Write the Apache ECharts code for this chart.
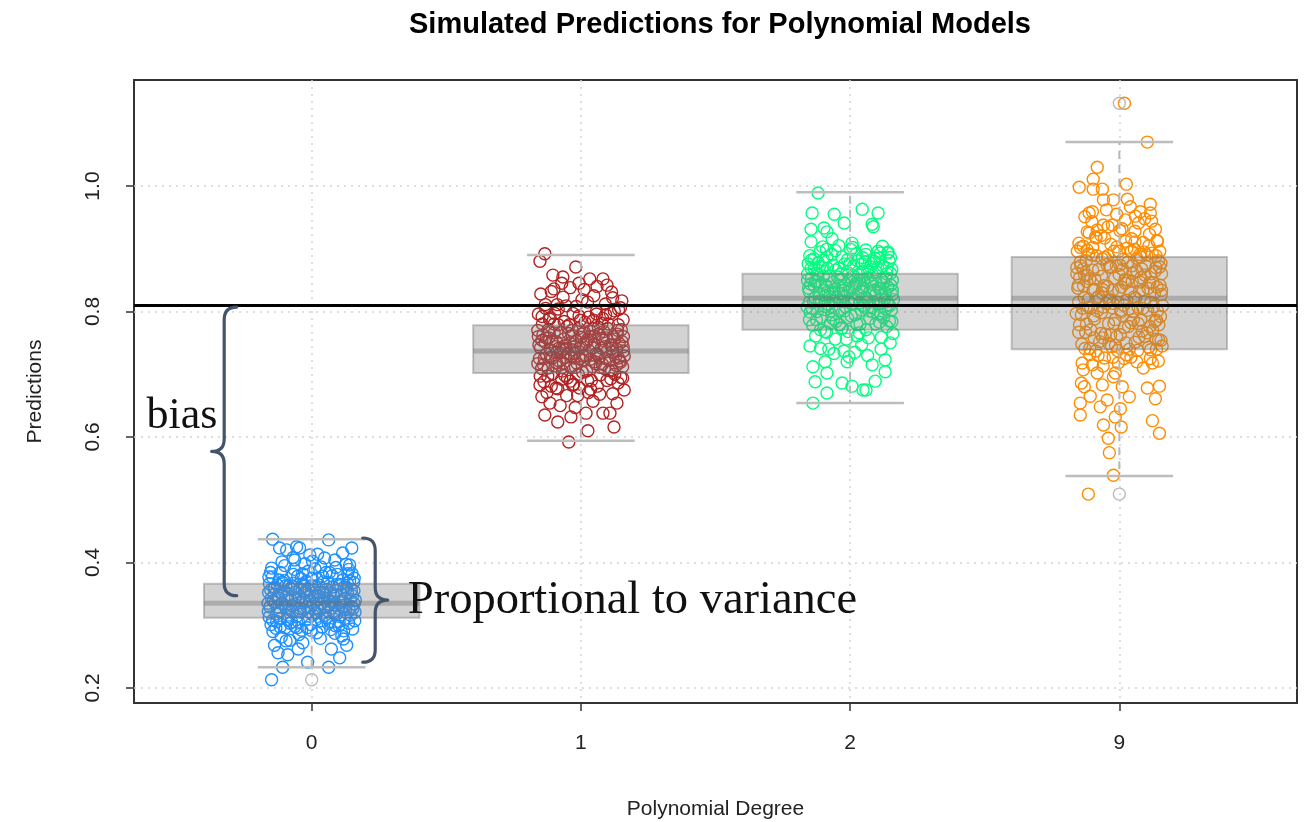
<!DOCTYPE html>
<html>
<head>
<meta charset="utf-8">
<title>Simulated Predictions for Polynomial Models</title>
<script src="https://cdn.jsdelivr.net/npm/echarts@6/dist/echarts.min.js"></script>
<style>
  html, body { margin: 0; padding: 0; background: #ffffff; }
  #chart { width: 1304px; height: 822px; }
</style>
</head>
<body>
<div id="chart"></div>
<script>
// Polynomial degrees shown on the x axis and their slot positions
const degreeLabels = ['0', '1', '2', '9'];
const degreeSlots = [1, 2, 3, 4];
const yTicks = [0.2, 0.4, 0.6, 0.8, 1.0];
const groupColors = ['#1E90FF', '#B22222', '#00FF7F', '#FF8C00'];

// True value of the target
const trueValue = 0.81;

// Simulated predictions per degree: [horizontal jitter, prediction]
const deg0Points = [
  [-0.149,0.213],[-0.145,0.437],[0.063,0.436],[0.149,0.423],[-0.108,0.233],[-0.015,0.241],[0.063,0.233],[0.104,0.248],[-0.089,0.253],[-0.138,0.268],[0.130,0.268],
  [-0.119,0.423],[-0.093,0.420],[-0.056,0.425],[-0.045,0.423],[-0.007,0.412],[0.048,0.407],[0.115,0.415],[0.086,0.404],[-0.063,0.404],[0.141,0.396],[-0.149,0.391],
  [-0.160,0.352],[-0.131,0.318],[-0.102,0.371],[-0.074,0.305],[-0.046,0.344],[-0.018,0.329],[0.011,0.362],[0.039,0.297],[0.067,0.338],[0.096,0.381],[0.124,0.311],[0.152,0.347],
  [-0.155,0.329],[-0.127,0.364],[-0.098,0.296],[-0.070,0.357],[-0.041,0.321],[-0.013,0.386],[0.016,0.309],[0.044,0.352],[0.072,0.327],[0.101,0.299],[0.129,0.359],[0.158,0.334],
  [-0.151,0.301],[-0.122,0.343],[-0.094,0.327],[-0.065,0.389],[-0.037,0.292],[-0.008,0.339],[0.020,0.374],[0.049,0.316],[0.077,0.361],[0.106,0.336],[0.134,0.382],[0.160,0.307],
  [-0.146,0.377],[-0.118,0.310],[-0.089,0.349],[-0.061,0.333],[-0.032,0.366],[-0.004,0.301],[0.025,0.347],[0.053,0.384],[0.082,0.319],[0.110,0.350],[0.139,0.326],[0.156,0.368],
  [-0.142,0.338],[-0.113,0.281],[-0.085,0.362],[-0.056,0.314],[-0.028,0.351],[0.001,0.375],[0.029,0.323],[0.058,0.342],[0.086,0.287],[0.115,0.372],[0.143,0.341],[-0.158,0.313],
  [-0.137,0.360],[-0.109,0.335],[-0.080,0.303],[-0.052,0.378],[-0.023,0.337],[0.005,0.316],[0.034,0.393],[0.062,0.331],[0.091,0.355],[0.119,0.291],[0.148,0.330],[-0.153,0.384],
  [-0.133,0.295],[-0.104,0.354],[-0.076,0.340],[-0.047,0.285],[-0.019,0.370],[0.010,0.346],[0.038,0.335],[0.067,0.306],[0.095,0.365],[0.124,0.343],[0.152,0.294],[-0.149,0.343],
  [-0.128,0.329],[-0.100,0.395],[-0.071,0.322],[-0.043,0.358],[-0.014,0.310],[0.014,0.353],[0.043,0.369],[0.071,0.293],[0.100,0.327],[0.128,0.397],[0.157,0.355],[-0.162,0.335],
  [-0.124,0.347],[-0.095,0.275],[-0.067,0.367],[-0.038,0.336],[-0.010,0.357],[0.019,0.288],[0.047,0.328],[0.076,0.379],[0.104,0.314],[0.133,0.351],[0.161,0.321],[-0.140,0.358],
  [-0.119,0.322],[-0.091,0.340],[-0.062,0.298],[-0.034,0.382],[-0.005,0.328],[0.023,0.341],[0.052,0.312],[0.080,0.348],[0.109,0.339],[0.137,0.303],[-0.145,0.308],[-0.116,0.384],
  [-0.087,0.316],[-0.059,0.353],[-0.030,0.325],[-0.002,0.292],[0.027,0.364],[0.055,0.357],[0.084,0.333],[0.112,0.283],[0.141,0.371],[-0.157,0.366],[-0.081,0.276],[0.032,0.279],
  [-0.050,0.262],[0.073,0.262],[-0.125,0.256],[0.118,0.278],[-0.026,0.398],[0.003,0.402],[-0.110,0.401],[0.150,0.382],[0.090,0.392],[-0.069,0.408],[0.022,0.413],[-0.033,0.272],
  [-0.161,0.322],[-0.139,0.349],[-0.117,0.297],[-0.096,0.363],[-0.072,0.331],[-0.049,0.305],[-0.027,0.362],[-0.006,0.347],[0.017,0.320],[0.040,0.378],[0.061,0.303],[0.083,0.346],
  [0.107,0.365],[0.126,0.325],[0.147,0.356],[0.162,0.340],[-0.152,0.356],[-0.130,0.306],[-0.108,0.368],[-0.084,0.325],[-0.060,0.344],[-0.039,0.374],[-0.017,0.296],[0.007,0.334],
  [0.028,0.352],[0.050,0.329],[0.070,0.352],[0.093,0.318],[0.117,0.338],[0.138,0.389],[0.158,0.375],[-0.144,0.290],[-0.121,0.372],[-0.099,0.330],[-0.078,0.359],[-0.054,0.296],
  [-0.031,0.341],[-0.011,0.321],[0.012,0.390],[0.036,0.307],[0.059,0.368],[0.079,0.337],[0.102,0.306],[0.121,0.361],[0.145,0.316],[-0.159,0.377],[-0.135,0.336],[-0.114,0.351],
  [-0.090,0.309],[-0.068,0.381],[-0.044,0.327],[-0.022,0.354],[0.000,0.363],[0.021,0.327],[0.045,0.344],[0.066,0.384],[0.088,0.299],[0.113,0.329],[0.132,0.367],[0.154,0.327]
];

const deg1Points = [
  [-0.134,0.892],[-0.152,0.880],[-0.019,0.871],[-0.104,0.858],[-0.067,0.855],[-0.071,0.845],[-0.007,0.845],[0.033,0.852],[0.082,0.852],[0.097,0.842],
  [-0.045,0.592],[0.026,0.610],[0.123,0.616],[-0.086,0.624],[-0.134,0.635],[-0.037,0.632],[0.019,0.638],[0.082,0.638],[0.108,0.638],[0.134,0.654],[-0.145,0.664],[-0.115,0.654],[-0.152,0.683],
  [-0.150,0.742],[-0.121,0.771],[-0.093,0.713],[-0.064,0.756],[-0.036,0.728],[-0.007,0.793],[0.021,0.705],[0.050,0.748],[0.078,0.781],[0.107,0.722],[0.135,0.764],[0.158,0.737],
  [-0.146,0.709],[-0.117,0.788],[-0.089,0.735],[-0.060,0.698],[-0.032,0.762],[-0.003,0.725],[0.025,0.815],[0.054,0.717],[0.082,0.754],[0.111,0.693],[0.139,0.779],[0.155,0.712],
  [-0.141,0.763],[-0.113,0.727],[-0.084,0.804],[-0.056,0.741],[-0.027,0.684],[0.001,0.759],[0.030,0.738],[0.058,0.796],[0.087,0.709],[0.115,0.746],[0.144,0.721],[-0.158,0.796],
  [-0.137,0.688],[-0.108,0.752],[-0.080,0.721],[-0.051,0.776],[-0.023,0.744],[0.006,0.703],[0.034,0.769],[0.063,0.731],[0.091,0.812],[0.120,0.760],[0.148,0.695],[-0.154,0.725],
  [-0.132,0.811],[-0.104,0.701],[-0.075,0.767],[-0.047,0.733],[-0.018,0.808],[0.010,0.749],[0.039,0.690],[0.067,0.764],[0.096,0.736],[0.124,0.801],[0.153,0.752],[-0.145,0.754],
  [-0.128,0.732],[-0.099,0.780],[-0.071,0.692],[-0.042,0.750],[-0.014,0.717],[0.015,0.783],[0.043,0.742],[0.072,0.711],[0.100,0.773],[0.129,0.728],[0.157,0.787],[-0.160,0.770],
  [-0.123,0.697],[-0.095,0.744],[-0.066,0.823],[-0.038,0.711],[-0.009,0.773],[0.019,0.730],[0.048,0.825],[0.076,0.742],[0.105,0.706],[0.133,0.740],[0.161,0.675],[-0.149,0.828],
  [-0.119,0.758],[-0.090,0.718],[-0.062,0.784],[-0.033,0.739],[-0.005,0.678],[0.024,0.755],[0.052,0.720],[0.081,0.789],[0.109,0.747],[0.138,0.686],[-0.139,0.715],[-0.110,0.832],
  [-0.086,0.677],[-0.057,0.727],[-0.029,0.797],[0.000,0.743],[0.028,0.671],[0.057,0.733],[0.085,0.768],[0.114,0.831],[0.142,0.749],[-0.156,0.747],[-0.126,0.671],[-0.097,0.797],
  [-0.081,0.742],[-0.053,0.666],[-0.024,0.726],[0.004,0.819],[0.033,0.760],[0.061,0.681],[0.090,0.725],[0.118,0.669],[0.147,0.806],[-0.143,0.780],[-0.114,0.739],[-0.012,0.666],
  [0.045,0.657],[-0.077,0.650],[0.070,0.668],[0.140,0.726],[-0.040,0.838],[0.012,0.835],[0.060,0.840],[0.118,0.822],[-0.100,0.836],[-0.131,0.805],[0.152,0.817],[-0.050,0.694],
  [0.097,0.690],[-0.021,0.647],[0.036,0.676],[-0.092,0.678],[0.126,0.700],[-0.065,0.718],[0.008,0.729],[0.079,0.757],[-0.118,0.768],[0.158,0.760],[-0.030,0.683],[0.047,0.786],
  [-0.158,0.760],[-0.136,0.725],[-0.114,0.790],[-0.091,0.752],[-0.069,0.705],[-0.046,0.765],[-0.024,0.733],[-0.002,0.786],[0.021,0.751],[0.043,0.712],[0.065,0.775],[0.088,0.744],
  [0.110,0.797],[0.132,0.714],[0.150,0.771],[0.161,0.729],[-0.151,0.697],[-0.129,0.758],[-0.106,0.726],[-0.084,0.779],[-0.062,0.745],[-0.039,0.689],[-0.017,0.753],[0.006,0.722],
  [0.028,0.791],[0.050,0.761],[0.073,0.699],[0.095,0.758],[0.117,0.735],[0.140,0.803],[0.157,0.744],[-0.144,0.792],[-0.122,0.710],[-0.099,0.766],[-0.077,0.734],[-0.055,0.809],
  [-0.032,0.770],[-0.010,0.700],[0.013,0.767],[0.035,0.724],[0.058,0.801],[0.080,0.716],[0.102,0.780],[0.125,0.756],[0.147,0.719],[-0.133,0.751],[-0.110,0.681],[-0.088,0.811],
  [-0.065,0.740],[-0.043,0.779],[-0.020,0.711],[0.002,0.764],[0.025,0.690],[0.047,0.773],[0.069,0.727],[0.092,0.795],[0.114,0.706],[0.136,0.770],[0.155,0.694],[-0.160,0.717]
];

const deg2Points = [
  [-0.119,0.989],[-0.141,0.957],[-0.059,0.955],[-0.022,0.941],[0.045,0.963],[0.104,0.957],[0.082,0.939],[0.086,0.935],[-0.145,0.931],[-0.097,0.933],[-0.086,0.927],[-0.067,0.916],[0.007,0.909],[-0.145,0.911],[0.141,0.895],[0.104,0.896],
  [-0.138,0.654],[-0.086,0.670],[-0.030,0.686],[0.007,0.681],[0.048,0.675],[0.059,0.675],[0.093,0.689],[-0.130,0.688],[-0.138,0.712],[-0.086,0.702],[0.130,0.704],[0.082,0.715],[-0.011,0.720],[-0.149,0.745],[0.149,0.750],[-0.093,0.720],[0.130,0.723],
  [-0.152,0.832],[-0.123,0.861],[-0.095,0.803],[-0.066,0.846],[-0.038,0.818],[-0.009,0.883],[0.019,0.795],[0.048,0.838],[0.076,0.871],[0.105,0.812],[0.133,0.854],[0.156,0.827],
  [-0.148,0.799],[-0.119,0.878],[-0.091,0.825],[-0.062,0.788],[-0.034,0.852],[-0.005,0.815],[0.023,0.892],[0.052,0.807],[0.080,0.844],[0.109,0.783],[0.137,0.869],[0.153,0.802],
  [-0.143,0.853],[-0.115,0.817],[-0.086,0.887],[-0.058,0.831],[-0.029,0.774],[-0.001,0.849],[0.028,0.828],[0.056,0.879],[0.085,0.799],[0.113,0.836],[0.142,0.811],[-0.156,0.876],
  [-0.139,0.778],[-0.110,0.842],[-0.082,0.811],[-0.053,0.866],[-0.025,0.834],[0.004,0.793],[0.032,0.859],[0.061,0.821],[0.089,0.880],[0.118,0.850],[0.146,0.785],[-0.151,0.815],
  [-0.134,0.884],[-0.106,0.791],[-0.077,0.857],[-0.049,0.823],[-0.020,0.876],[0.008,0.839],[0.037,0.780],[0.065,0.854],[0.094,0.826],[0.122,0.873],[0.151,0.842],[-0.147,0.844],
  [-0.130,0.822],[-0.101,0.870],[-0.073,0.782],[-0.044,0.840],[-0.016,0.807],[0.013,0.873],[0.041,0.832],[0.070,0.801],[0.098,0.863],[0.127,0.818],[0.155,0.867],[-0.158,0.860],
  [-0.125,0.787],[-0.097,0.834],[-0.068,0.891],[-0.040,0.801],[-0.011,0.863],[0.017,0.820],[0.046,0.886],[0.074,0.832],[0.103,0.796],[0.131,0.830],[0.159,0.765],[-0.150,0.889],
  [-0.121,0.848],[-0.092,0.808],[-0.064,0.874],[-0.035,0.829],[-0.007,0.768],[0.022,0.845],[0.050,0.810],[0.079,0.877],[0.107,0.837],[0.136,0.776],[-0.141,0.805],[-0.112,0.895],
  [-0.088,0.767],[-0.059,0.817],[-0.031,0.887],[-0.002,0.833],[0.026,0.761],[0.055,0.823],[0.083,0.858],[0.112,0.893],[0.140,0.839],[-0.154,0.837],[-0.128,0.761],[-0.099,0.882],
  [-0.083,0.832],[-0.055,0.756],[-0.026,0.816],[0.002,0.899],[0.031,0.850],[0.059,0.771],[0.088,0.815],[0.116,0.759],[0.145,0.881],[-0.145,0.869],[-0.116,0.829],[-0.014,0.756],
  [0.043,0.747],[-0.079,0.740],[0.068,0.758],[0.138,0.816],[-0.042,0.905],[0.010,0.902],[0.058,0.898],[0.120,0.904],[-0.102,0.903],[-0.133,0.868],[0.150,0.886],[-0.052,0.784],
  [0.095,0.780],[-0.023,0.737],[0.034,0.766],[-0.094,0.768],[0.124,0.790],[-0.067,0.808],[0.006,0.819],[0.077,0.847],[-0.120,0.858],[0.157,0.850],[-0.032,0.773],[0.045,0.876],
  [-0.110,0.741],[0.018,0.735],[0.115,0.740],[-0.060,0.733],[0.065,0.730],[-0.004,0.728],
  [-0.158,0.850],[-0.136,0.815],[-0.114,0.872],[-0.091,0.842],[-0.069,0.795],[-0.046,0.855],[-0.024,0.823],[-0.002,0.876],[0.021,0.841],[0.043,0.802],[0.065,0.865],[0.088,0.834],
  [0.110,0.885],[0.132,0.804],[0.150,0.861],[0.161,0.819],[-0.151,0.787],[-0.129,0.848],[-0.106,0.816],[-0.084,0.869],[-0.062,0.835],[-0.039,0.779],[-0.017,0.843],[0.006,0.812],
  [0.028,0.881],[0.050,0.851],[0.073,0.789],[0.095,0.848],[0.117,0.825],[0.140,0.893],[0.157,0.834],[-0.144,0.882],[-0.122,0.800],[-0.099,0.856],[-0.077,0.824],[-0.055,0.897],
  [-0.032,0.860],[-0.010,0.790],[0.013,0.857],[0.035,0.814],[0.058,0.891],[0.080,0.806],[0.102,0.870],[0.125,0.846],[0.147,0.809],[-0.133,0.841],[-0.110,0.771],[-0.088,0.899],
  [-0.065,0.830],[-0.043,0.869],[-0.020,0.801],[0.002,0.854],[0.025,0.780],[0.047,0.863],[0.069,0.817],[0.092,0.885],[0.114,0.796],[0.136,0.860],[0.155,0.784],[-0.160,0.807]
];

const deg9Points = [
  [0.019,1.132],[0.104,1.070],[-0.082,1.030],[-0.097,1.011],[-0.149,0.998],[-0.097,0.995],[-0.063,0.995],[0.026,1.003],[-0.059,0.978],[-0.022,0.978],[0.030,0.979],[0.115,0.971],
  [0.078,0.959],[0.115,0.957],[-0.100,0.959],[-0.112,0.957],[0.041,0.967],[0.022,0.946],[0.071,0.941],[-0.059,0.938],[-0.026,0.938],[0.134,0.931],[-0.119,0.927],[0.141,0.912],[-0.082,0.930],
  [-0.115,0.509],[-0.022,0.539],[-0.037,0.575],[-0.041,0.598],[0.007,0.616],[-0.059,0.619],[0.149,0.606],[0.123,0.626],[-0.015,0.632],[-0.145,0.635],[0.004,0.645],[-0.045,0.659],
  [-0.145,0.654],[-0.071,0.648],[0.134,0.661],[0.037,0.664],[0.149,0.681],[0.104,0.678],[0.011,0.680],[-0.108,0.665],[-0.130,0.680],[-0.141,0.686],[-0.063,0.683],[-0.022,0.696],
  [-0.082,0.702],[-0.015,0.702],[-0.134,0.707],[-0.100,0.715],[0.145,0.721],[0.089,0.710],[0.123,0.718],[-0.138,0.718],
  [-0.152,0.842],[-0.123,0.881],[-0.095,0.793],[-0.066,0.856],[-0.038,0.818],[-0.009,0.903],[0.019,0.775],[0.048,0.848],[0.076,0.891],[0.105,0.802],[0.133,0.864],[0.156,0.827],
  [-0.148,0.779],[-0.119,0.898],[-0.091,0.835],[-0.062,0.758],[-0.034,0.872],[-0.005,0.815],[0.023,0.912],[0.052,0.787],[0.080,0.854],[0.109,0.743],[0.137,0.889],[0.153,0.792],
  [-0.143,0.873],[-0.115,0.807],[-0.086,0.917],[-0.058,0.841],[-0.029,0.744],[-0.001,0.859],[0.028,0.818],[0.056,0.899],[0.085,0.769],[0.113,0.846],[0.142,0.801],[-0.156,0.896],
  [-0.139,0.748],[-0.110,0.852],[-0.082,0.801],[-0.053,0.886],[-0.025,0.834],[0.004,0.763],[0.032,0.879],[0.061,0.821],[0.089,0.910],[0.118,0.860],[0.146,0.755],[-0.151,0.815],
  [-0.134,0.904],[-0.106,0.771],[-0.077,0.867],[-0.049,0.813],[-0.020,0.896],[0.008,0.839],[0.037,0.740],[0.065,0.864],[0.094,0.816],[0.122,0.893],[0.151,0.842],[-0.147,0.854],
  [-0.130,0.822],[-0.101,0.890],[-0.073,0.752],[-0.044,0.840],[-0.016,0.787],[0.013,0.883],[0.041,0.832],[0.070,0.781],[0.098,0.873],[0.127,0.808],[0.155,0.877],[-0.158,0.870],
  [-0.125,0.767],[-0.097,0.834],[-0.068,0.921],[-0.040,0.781],[-0.011,0.873],[0.017,0.810],[0.046,0.916],[0.074,0.832],[0.103,0.766],[0.131,0.830],[0.159,0.745],[-0.150,0.909],
  [-0.121,0.848],[-0.092,0.788],[-0.064,0.884],[-0.035,0.819],[-0.007,0.738],[0.022,0.845],[0.050,0.800],[0.079,0.887],[0.107,0.837],[0.136,0.756],[-0.141,0.795],[-0.112,0.925],
  [-0.088,0.737],[-0.059,0.807],[-0.031,0.907],[-0.002,0.833],[0.026,0.731],[0.055,0.823],[0.083,0.868],[0.112,0.923],[0.140,0.839],[-0.154,0.837],[-0.128,0.741],[-0.099,0.902],
  [-0.083,0.822],[-0.055,0.726],[-0.026,0.806],[0.002,0.929],[0.031,0.850],[0.059,0.751],[0.088,0.805],[0.116,0.739],[0.145,0.881],[-0.145,0.879],[-0.116,0.819],[-0.014,0.746],
  [0.043,0.727],[-0.079,0.730],[0.068,0.738],[0.138,0.786],[-0.042,0.935],[0.010,0.932],[0.058,0.928],[0.120,0.944],[-0.102,0.943],[-0.133,0.868],[0.150,0.896],[-0.052,0.764],
  [0.095,0.760],[-0.023,0.727],[0.034,0.776],[-0.094,0.758],[0.124,0.770],[-0.067,0.798],[0.006,0.799],[0.077,0.847],[-0.120,0.858],[0.157,0.860],[-0.032,0.763],[0.045,0.896],
  [-0.110,0.731],[0.018,0.725],[0.115,0.725],[-0.060,0.713],[0.065,0.720],[-0.004,0.718],[-0.128,0.951],[0.094,0.948],[-0.048,0.962],[0.060,0.952],[-0.010,0.955],[0.138,0.740],
  [-0.158,0.860],[-0.136,0.805],[-0.114,0.892],[-0.091,0.852],[-0.069,0.765],[-0.046,0.875],[-0.024,0.813],[-0.002,0.896],[0.021,0.851],[0.043,0.782],[0.065,0.885],[0.088,0.834],
  [0.110,0.905],[0.132,0.784],[0.150,0.871],[0.161,0.809],[-0.151,0.767],[-0.129,0.858],[-0.106,0.806],[-0.084,0.889],[-0.062,0.835],[-0.039,0.749],[-0.017,0.853],[0.006,0.802],
  [0.028,0.901],[0.050,0.861],[0.073,0.759],[0.095,0.858],[0.117,0.815],[0.140,0.913],[0.157,0.834],[-0.144,0.902],[-0.122,0.780],[-0.099,0.866],[-0.077,0.824],[-0.055,0.917],
  [-0.032,0.870],[-0.010,0.760],[0.013,0.867],[0.035,0.804],[0.058,0.911],[0.080,0.786],[0.102,0.890],[0.125,0.846],[0.147,0.779],[-0.133,0.841],[-0.110,0.741],[-0.088,0.919],
  [-0.065,0.830],[-0.043,0.889],[-0.020,0.781],[0.002,0.874],[0.025,0.750],[0.047,0.873],[0.069,0.807],[0.092,0.895],[0.114,0.776],[0.136,0.870],[0.155,0.754],[-0.160,0.797]
];

const groupPoints = [deg0Points, deg1Points, deg2Points, deg9Points];

// Box statistics per degree: [lower whisker, Q1, median, Q3, upper whisker]
const deg0Box = [0.233, 0.312, 0.335, 0.366, 0.437];
const deg1Box = [0.594, 0.702, 0.737, 0.778, 0.890];
const deg2Box = [0.654, 0.771, 0.821, 0.860, 0.990];
const deg9Box = [0.538, 0.740, 0.821, 0.887, 1.070];
const boxStats = [deg0Box, deg1Box, deg2Box, deg9Box];

// Points beyond the whiskers: [slot, value]
const boxOutliers = [[1, 0.213], [4, 1.132], [4, 0.509]];

// Annotation braces: [x, top, bottom, direction(-1 = "{", 1 = "}")]
const braces = [[0.675, 0.807, 0.347, -1], [1.236, 0.439, 0.241, 1]];
// Annotation captions
const captions = [
  { text: 'bias', x: 0.650, y: 0.632, align: 'right', size: 44 },
  { text: 'Proportional to variance', x: 1.357, y: 0.339, align: 'left', size: 46.5 }
];

const sansFont = '"Liberation Sans", Arial, Helvetica, sans-serif';
const serifFont = '"Liberation Serif", "Times New Roman", serif';

const chart = echarts.init(document.getElementById('chart'), null, { renderer: 'canvas' });

const pointSeries = groupPoints.map((pts, gi) => ({
  type: 'scatter',
  name: degreeLabels[gi],
  z: 2,
  symbol: 'circle',
  symbolSize: 12,
  silent: true,
  itemStyle: { color: 'rgba(0,0,0,0)', borderColor: groupColors[gi], borderWidth: 1.4, opacity: 1 },
  data: pts.map(p => [degreeSlots[gi] + p[0], p[1]])
}));

function renderBox(params, api) {
  const x = api.value(0);
  const pLo = api.coord([x, api.value(1)]);
  const pQ1 = api.coord([x, api.value(2)]);
  const pMed = api.coord([x, api.value(3)]);
  const pQ3 = api.coord([x, api.value(4)]);
  const pHi = api.coord([x, api.value(5)]);
  const half = api.size([0.4, 0])[0];
  const stapleHalf = api.size([0.2, 0])[0];
  const cx = pMed[0];
  const whisker = { stroke: '#b8b8b8', lineWidth: 2, lineDash: [8, 6] };
  const staple = { stroke: '#bdbdbd', lineWidth: 2.5 };
  return {
    type: 'group',
    children: [
      { type: 'line', shape: { x1: cx, y1: pQ1[1], x2: cx, y2: pLo[1] }, style: whisker },
      { type: 'line', shape: { x1: cx, y1: pQ3[1], x2: cx, y2: pHi[1] }, style: whisker },
      { type: 'line', shape: { x1: cx - stapleHalf, y1: pLo[1], x2: cx + stapleHalf, y2: pLo[1] }, style: staple },
      { type: 'line', shape: { x1: cx - stapleHalf, y1: pHi[1], x2: cx + stapleHalf, y2: pHi[1] }, style: staple },
      { type: 'rect', shape: { x: cx - half, y: pQ3[1], width: half * 2, height: pQ1[1] - pQ3[1] },
        style: { fill: 'rgba(128,128,128,0.35)', stroke: 'rgba(110,110,110,0.4)', lineWidth: 2 } },
      { type: 'line', shape: { x1: cx - half, y1: pMed[1], x2: cx + half, y2: pMed[1] },
        style: { stroke: 'rgba(100,100,100,0.35)', lineWidth: 5 } }
    ]
  };
}

function renderBrace(params, api) {
  const x = api.value(0);
  const a = api.coord([x, api.value(1)]);
  const b = api.coord([x, api.value(2)]);
  const d = api.value(3);
  const r = 12.5;
  const xl = a[0], t = a[1], bt = b[1], mid = (t + bt) / 2;
  const path = [
    'M', xl - d * r, t,
    'Q', xl, t, xl, t + r,
    'L', xl, mid - r,
    'Q', xl, mid, xl + d * r, mid,
    'Q', xl, mid, xl, mid + r,
    'L', xl, bt - r,
    'Q', xl, bt, xl - d * r, bt
  ].join(' ');
  return {
    type: 'path',
    shape: { pathData: path },
    style: { fill: 'none', stroke: '#44546A', lineWidth: 3.2, lineCap: 'round', lineJoin: 'round' }
  };
}

function renderCaption(params, api) {
  const c = captions[params.dataIndex];
  const p = api.coord([api.value(0), api.value(1)]);
  return {
    type: 'text',
    x: p[0],
    y: p[1],
    style: { text: c.text, fill: '#111', font: c.size + 'px ' + serifFont, align: c.align, verticalAlign: 'middle' }
  };
}

const option = {
  animation: false,
  backgroundColor: '#ffffff',
  title: {
    text: 'Simulated Predictions for Polynomial Models',
    left: 715,
    top: 5,
    textAlign: 'center',
    textStyle: { fontFamily: sansFont, fontSize: 29, fontWeight: 'bold', color: '#000' }
  },
  grid: {
    left: 134, right: 7, top: 80, bottom: 119,
    show: true, borderColor: '#333', borderWidth: 2, backgroundColor: 'transparent',
    containLabel: false, outerBoundsMode: 'none'
  },
  xAxis: {
    type: 'value',
    min: 0.34,
    max: 4.66,
    name: 'Polynomial Degree',
    nameLocation: 'middle',
    nameGap: 96,
    nameTextStyle: { fontFamily: sansFont, fontSize: 21, color: '#222' },
    axisLine: { show: false },
    axisTick: { show: true, customValues: degreeSlots, length: 8, lineStyle: { color: '#333', width: 1.5 } },
    axisLabel: {
      customValues: degreeSlots,
      formatter: v => degreeLabels[degreeSlots.indexOf(Math.round(v))] || '',
      fontFamily: sansFont, fontSize: 21, color: '#222', margin: 30
    },
    splitLine: { show: true, lineStyle: { color: '#d3d3d3', width: 1.5, type: [2, 5] } }
  },
  yAxis: {
    type: 'value',
    min: 0.176,
    max: 1.169,
    name: 'Predictions',
    nameLocation: 'middle',
    nameGap: 88,
    nameRotate: 90,
    nameTextStyle: { fontFamily: sansFont, fontSize: 21, color: '#222' },
    axisLine: { show: false },
    axisTick: { show: true, customValues: yTicks, length: 8, lineStyle: { color: '#333', width: 1.5 } },
    axisLabel: {
      customValues: yTicks,
      rotate: 90,
      formatter: v => v.toFixed(1),
      fontFamily: sansFont, fontSize: 21, color: '#222', margin: 30
    },
    splitLine: { show: true, lineStyle: { color: '#d3d3d3', width: 1.5, type: [2, 5] } }
  },
  series: [
    ...pointSeries,
    {
      type: 'custom',
      name: 'boxes',
      z: 3,
      silent: true,
      renderItem: renderBox,
      encode: { x: 0, y: [1, 2, 3, 4, 5] },
      data: boxStats.map((s, i) => [degreeSlots[i], ...s]),
      markLine: {
        silent: true,
        symbol: ['none', 'none'],
        label: { show: false },
        lineStyle: { color: '#000', width: 3, type: 'solid' },
        data: [{ yAxis: trueValue }]
      }
    },
    {
      type: 'scatter',
      name: 'outliers',
      z: 3,
      silent: true,
      symbol: 'circle',
      symbolSize: 12,
      itemStyle: { color: 'rgba(0,0,0,0)', borderColor: '#aaaaaa', borderWidth: 1.4 },
      data: boxOutliers
    },
    {
      type: 'custom',
      name: 'braces',
      z: 5,
      silent: true,
      renderItem: renderBrace,
      encode: { x: 0, y: [1, 2] },
      data: braces
    },
    {
      type: 'custom',
      name: 'captions',
      z: 5,
      silent: true,
      renderItem: renderCaption,
      encode: { x: 0, y: 1 },
      data: captions.map(c => [c.x, c.y])
    }
  ]
};

chart.setOption(option);
</script>
</body>
</html>
